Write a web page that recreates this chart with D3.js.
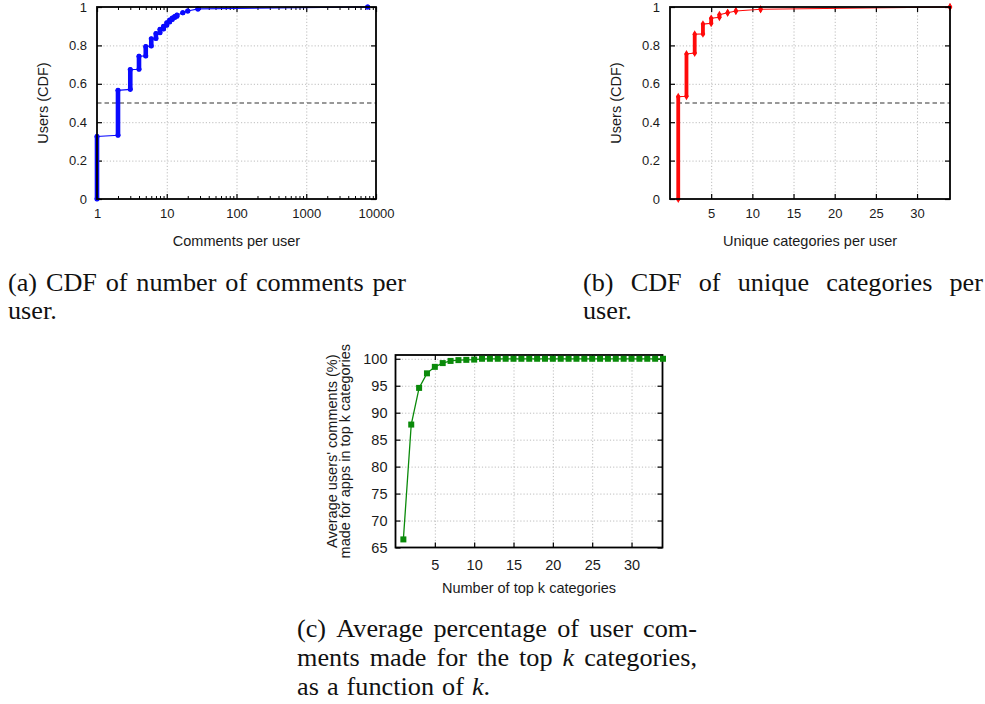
<!DOCTYPE html>
<html>
<head>
<meta charset="utf-8">
<script src="https://cdn.jsdelivr.net/npm/d3@7"></script>
<style>
  body { margin: 0; background: #fff; }
  svg { display: block; }
</style>
</head>
<body>
<svg id="fig" width="985" height="704"></svg>
<script>
// (a) CDF of comments per user: one step per distinct count, CDF at the bottom and top of the step
const commentsX  = [1, 2, 3, 4, 5, 6, 7, 8, 9, 10, 11, 12, 13, 14, 17, 20, 28, 7600];
const commentsLo = [0, 0.332, 0.571, 0.676, 0.745, 0.797, 0.836, 0.866, 0.886, 0.905, 0.922, 0.935, 0.945, 0.952, 0.970, 0.979, 0.990, 1.0];
const commentsHi = [0.326, 0.566, 0.674, 0.744, 0.794, 0.834, 0.862, 0.884, 0.900, 0.918, 0.932, 0.942, 0.950, 0.958, 0.970, 0.979, 0.990, 1.0];

// (b) CDF of unique categories per user
const catsX  = [1, 2, 3, 4, 5, 6, 7, 8, 11, 34];
const catsLo = [0, 0.535, 0.760, 0.860, 0.915, 0.946, 0.970, 0.979, 0.988, 1.0];
const catsHi = [0.533, 0.755, 0.858, 0.911, 0.941, 0.960, 0.970, 0.979, 0.988, 1.0];

// (c) average share of a user's comments falling in their top-k categories
const topK = [1, 2, 3, 4, 5, 6, 7, 8, 9, 10, 11, 12, 13, 14, 15, 16, 17, 18, 19, 20, 21, 22, 23, 24, 25, 26, 27, 28, 29, 30, 31, 32, 33, 34];
const topKPct = [66.5, 87.8, 94.6, 97.3, 98.5, 99.2, 99.6, 99.75, 99.8, 99.85, 100, 100, 100, 100, 100, 100, 100, 100, 100, 100, 100, 100, 100, 100, 100, 100, 100, 100, 100, 100, 100, 100, 100, 100];

// tick values
const cdfTicks = [0, 0.2, 0.4, 0.6, 0.8, 1];
const logTicks = [1, 10, 100, 1000, 10000];
const catTicks = [5, 10, 15, 20, 25, 30];
const pctTicks = [65, 70, 75, 80, 85, 90, 95, 100];

// caption text ("*" marks an italic math symbol)
const captionA = [["(a)", "CDF", "of", "number", "of", "comments", "per"], ["user."]];
const captionB = [["(b)", "CDF", "of", "unique", "categories", "per"], ["user."]];
const captionC = [["(c)", "Average", "percentage", "of", "user", "com-"],
                  ["ments", "made", "for", "the", "top", "*k", "categories,"],
                  ["as", "a", "function", "of", "*k."]];

const svg = d3.select("#fig");
const SANS = "'Liberation Sans', Arial, Helvetica, sans-serif";
const SERIF = "'Liberation Serif', 'Times New Roman', serif";
const TEXT = "#1a1a1a";

function frame(g, x, y, box, opt) {
  const w = box.right - box.left, h = box.bottom - box.top;
  // dotted grid
  g.append("g").attr("transform", `translate(0,${box.bottom})`)
    .call(d3.axisBottom(x).tickValues(opt.xGrid).tickSize(-h).tickFormat(""))
    .call(s => s.select(".domain").remove())
    .selectAll("line").attr("stroke", "#bdbdbd").attr("stroke-dasharray", "1.2,2").attr("stroke-width", 1);
  g.append("g").attr("transform", `translate(${box.left},0)`)
    .call(d3.axisLeft(y).tickValues(opt.yGrid).tickSize(-w).tickFormat(""))
    .call(s => s.select(".domain").remove())
    .selectAll("line").attr("stroke", "#bdbdbd").attr("stroke-dasharray", "1.2,2").attr("stroke-width", 1);

  // axes with inward ticks, mirrored on top / right
  const fs = opt.fontSize;
  const bottom = g.append("g").attr("transform", `translate(0,${box.bottom})`)
    .call(d3.axisBottom(x).tickValues(opt.xTicks).tickSizeInner(-5).tickSizeOuter(0)
      .tickPadding(opt.xPad).tickFormat(opt.xFormat));
  const top = g.append("g").attr("transform", `translate(0,${box.top})`)
    .call(d3.axisTop(x).tickValues(opt.xTicks).tickSizeInner(-5).tickSizeOuter(0).tickFormat(""));
  const left = g.append("g").attr("transform", `translate(${box.left},0)`)
    .call(d3.axisLeft(y).tickValues(opt.yTicks).tickSizeInner(-5).tickSizeOuter(0)
      .tickPadding(opt.yPad).tickFormat(opt.yFormat));
  const right = g.append("g").attr("transform", `translate(${box.right},0)`)
    .call(d3.axisRight(y).tickValues(opt.yTicks).tickSizeInner(-5).tickSizeOuter(0).tickFormat(""));
  [bottom, top, left, right].forEach(a => {
    a.select(".domain").remove();
    a.selectAll("line").attr("stroke", "#000").attr("stroke-width", 1.2);
    a.selectAll("text").attr("font-family", SANS).attr("font-size", fs).attr("fill", TEXT);
  });
  if (opt.xMinor) {
    const mb = g.append("g").attr("transform", `translate(0,${box.bottom})`)
      .call(d3.axisBottom(x).tickValues(opt.xMinor).tickSizeInner(-3).tickSizeOuter(0).tickFormat(""));
    const mt = g.append("g").attr("transform", `translate(0,${box.top})`)
      .call(d3.axisTop(x).tickValues(opt.xMinor).tickSizeInner(-3).tickSizeOuter(0).tickFormat(""));
    [mb, mt].forEach(a => { a.select(".domain").remove(); a.selectAll("line").attr("stroke", "#000").attr("stroke-width", 1); });
  }
}

function border(g, box) {
  g.append("rect").attr("x", box.left).attr("y", box.top)
    .attr("width", box.right - box.left).attr("height", box.bottom - box.top)
    .attr("fill", "none").attr("stroke", "#000").attr("stroke-width", 1.8);
}

function titles(g, box, xt, yt, xy, yx, fs) {
  g.append("text").attr("x", (box.left + box.right) / 2).attr("y", xy)
    .attr("text-anchor", "middle").attr("font-family", SANS).attr("font-size", fs).attr("fill", TEXT).text(xt);
  const cy = (box.top + box.bottom) / 2;
  const lines = Array.isArray(yt) ? yt : [yt];
  lines.forEach((t, i) => {
    g.append("text").attr("transform", `translate(${yx[i]},${cy}) rotate(-90)`)
      .attr("text-anchor", "middle").attr("dominant-baseline", "central")
      .attr("font-family", SANS).attr("font-size", fs).attr("fill", TEXT).text(t);
  });
}

// step CDF: thick vertical runs of markers joined by thin lines
function stepCdf(g, x, y, xs, lo, hi, color, runWidth, marker) {
  const pts = [];
  xs.forEach((v, i) => { pts.push([x(v), y(lo[i])]); pts.push([x(v), y(hi[i])]); });
  g.append("path").attr("d", d3.line()(pts)).attr("fill", "none")
    .attr("stroke", color).attr("stroke-width", 1.1);
  xs.forEach((v, i) => {
    if (hi[i] > lo[i]) {
      g.append("line").attr("x1", x(v)).attr("x2", x(v)).attr("y1", y(lo[i])).attr("y2", y(hi[i]))
        .attr("stroke", color).attr("stroke-width", runWidth).attr("stroke-linecap", "round");
    }
    [lo[i], hi[i]].forEach(c => {
      g.append("path").attr("transform", `translate(${x(v)},${y(c)})`)
        .attr("d", d3.symbol().type(marker.type).size(marker.size)()).attr("fill", color);
    });
  });
}

function refLine(g, box, y) {
  g.append("line").attr("x1", box.left).attr("x2", box.right).attr("y1", y(0.5)).attr("y2", y(0.5))
    .attr("stroke", "#333").attr("stroke-width", 1.2).attr("stroke-dasharray", "4.5,3");
}

// ---- panel (a)
{
  const box = { left: 97, right: 376, top: 7, bottom: 199 };
  const x = d3.scaleLog().domain([1, 10000]).range([box.left, box.right]);
  const y = d3.scaleLinear().domain([0, 1]).range([box.bottom, box.top]);
  const minor = x.ticks().filter(v => !logTicks.includes(v));
  const g = svg.append("g");
  frame(g, x, y, box, {
    xGrid: logTicks.slice(1, -1), yGrid: cdfTicks.slice(1, -1),
    xTicks: logTicks, yTicks: cdfTicks, xMinor: minor,
    xFormat: d3.format("d"), yFormat: d3.format("~g"),
    xPad: 10, yPad: 10, fontSize: 13
  });
  refLine(g, box, y);
  stepCdf(g, x, y, commentsX, commentsLo, commentsHi, "#0a0aff", 4.6, { type: d3.symbolCircle, size: 20 });
  border(g, box);
  titles(g, box, "Comments per user", "Users (CDF)", 246, [43], 14.5);
}

// ---- panel (b)
{
  const box = { left: 670, right: 950, top: 7, bottom: 199 };
  const x = d3.scaleLinear().domain([0, 34]).range([box.left, box.right]);
  const y = d3.scaleLinear().domain([0, 1]).range([box.bottom, box.top]);
  const g = svg.append("g");
  frame(g, x, y, box, {
    xGrid: catTicks, yGrid: cdfTicks.slice(1, -1),
    xTicks: catTicks, yTicks: cdfTicks,
    xFormat: d3.format("d"), yFormat: d3.format("~g"),
    xPad: 10, yPad: 10, fontSize: 13
  });
  refLine(g, box, y);
  stepCdf(g, x, y, catsX, catsLo, catsHi, "#ff0a0a", 3.8, { type: d3.symbolDiamond, size: 18 });
  border(g, box);
  titles(g, box, "Unique categories per user", "Users (CDF)", 246, [616], 14.5);
}

// ---- panel (c)
{
  const box = { left: 395.5, right: 662.5, top: 355, bottom: 547.5 };
  const x = d3.scaleLinear().domain([0, 34]).range([box.left, box.right + 0.5]);
  const y = d3.scaleLinear().domain([65, 100.7]).range([box.bottom, box.top]);
  const g = svg.append("g");
  frame(g, x, y, box, {
    xGrid: catTicks, yGrid: pctTicks.slice(1),
    xTicks: catTicks, yTicks: pctTicks,
    xFormat: d3.format("d"), yFormat: d3.format("d"),
    xPad: 12, yPad: 8, fontSize: 14.5
  });
  border(g, box);
  const green = "#0a8a0a";
  g.append("path").datum(topK.map((k, i) => [x(k), y(topKPct[i])]))
    .attr("d", d3.line()).attr("fill", "none").attr("stroke", green).attr("stroke-width", 1.3);
  g.selectAll("rect.pt").data(topK).join("rect").attr("class", "pt")
    .attr("x", (k) => x(k) - 3).attr("y", (k, i) => y(topKPct[i]) - 3)
    .attr("width", 6).attr("height", 6).attr("fill", green);
  titles(g, box, "Number of top k categories",
    ["Average users' comments (%)", "made for apps in top k categories"], 593, [332, 345], 14.5);
}

// ---- captions (justified lines, last line set ragged)
// the serif face is widened slightly to the proportions of a book typeface
const CAP_FS = 24.4, CAP_WIDEN = 1.075;
function caption(lines, x0, width, baseline0, lead) {
  lines.forEach((words, li) => {
    const yb = baseline0 + li * lead;
    const last = li === lines.length - 1;
    const nodes = words.map(wd => {
      const t = svg.append("text").attr("font-family", SERIF)
        .attr("font-size", CAP_FS).attr("fill", "#111");
      if (wd.startsWith("*")) {
        const m = wd.slice(1).match(/^([A-Za-z]+)(.*)$/);
        t.append("tspan").attr("font-style", "italic").text(m[1]);
        if (m[2]) t.append("tspan").text(m[2]);
      } else {
        t.text(wd);
      }
      return t;
    });
    const widths = nodes.map(n => n.node().getComputedTextLength() * CAP_WIDEN);
    const total = d3.sum(widths);
    const gap = last || nodes.length < 2 ? CAP_FS * 0.33 : (width - total) / (nodes.length - 1);
    let cx = x0;
    nodes.forEach((n, i) => {
      n.attr("transform", `translate(${cx},${yb}) scale(${CAP_WIDEN},1)`);
      cx += widths[i] + gap;
    });
  });
}
caption(captionA, 8, 398, 291, 28);
caption(captionB, 583, 400, 291, 28);
caption(captionC, 297, 400, 637, 29);
</script>
</body>
</html>
